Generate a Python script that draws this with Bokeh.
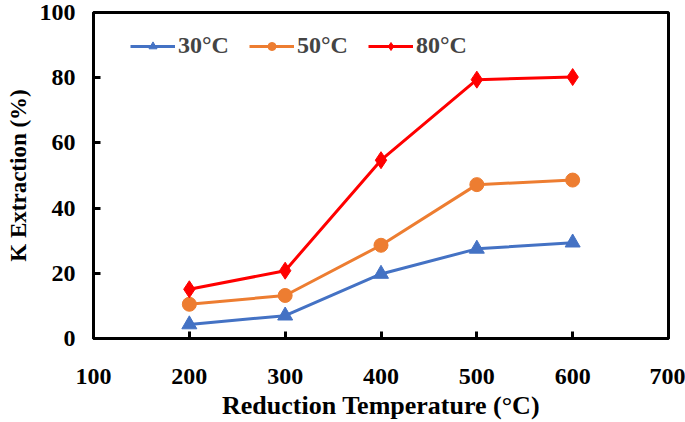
from bokeh.plotting import figure
from bokeh.models import Legend, LegendItem, Range1d, FixedTicker
from bokeh.embed import file_html
from bokeh.resources import INLINE

temps = [200, 300, 400, 500, 600]
k_30 = [4.3, 7.0, 19.8, 27.5, 29.4]
k_50 = [10.5, 13.2, 28.6, 47.2, 48.6]
k_80 = [15.1, 20.8, 54.7, 79.4, 80.2]
x_ticks = [100, 200, 300, 400, 500, 600, 700]
y_ticks = [0, 20, 40, 60, 80, 100]
x_title = "Reduction Temperature (°C)"
y_title = "K Extraction (%)"

FONT = "Liberation Serif"

p = figure(width=685, height=422, output_backend="svg", toolbar_location=None,
           x_range=Range1d(100, 700), y_range=Range1d(0, 100),
           min_border_left=93, min_border_right=17, min_border_top=12, min_border_bottom=84)

p.xgrid.visible = False
p.ygrid.visible = False
p.outline_line_color = "black"
p.outline_line_width = 3
p.outline_line_alpha = 1

r30 = p.line(temps, k_30, line_color="#4472C4", line_width=3)
m30 = p.scatter(temps, k_30, marker="triangle", size=15, fill_color="#4472C4", line_color="#4472C4")
r50 = p.line(temps, k_50, line_color="#ED7D31", line_width=3)
m50 = p.scatter(temps, k_50, marker="circle", size=14, fill_color="#ED7D31", line_color="#ED7D31")
r80 = p.line(temps, k_80, line_color="#FF0000", line_width=3)
m80 = p.scatter(temps, k_80, marker="diamond", size=17, fill_color="#FF0000", line_color="#FF0000")

for ax in (p.xaxis[0], p.yaxis[0]):
    ax.axis_line_color = "black"
    ax.axis_line_width = 3
    ax.major_tick_in = 7
    ax.major_tick_out = 0
    ax.major_tick_line_width = 3
    ax.minor_tick_line_color = None
    ax.major_label_text_font = FONT
    ax.major_label_text_font_style = "bold"
    ax.major_label_text_font_size = "24px"
    ax.major_label_text_color = "black"
    ax.axis_label_text_font = FONT
    ax.axis_label_text_font_style = "bold"
    ax.axis_label_text_color = "black"

p.xaxis.major_label_text_line_height = 0.8
p.xaxis.axis_label_text_line_height = 0.8
p.yaxis.major_label_text_line_height = 1.0
p.yaxis.axis_label_text_line_height = 1.0

p.xaxis.ticker = FixedTicker(ticks=x_ticks)
p.yaxis.ticker = FixedTicker(ticks=y_ticks)
p.xaxis.axis_label = x_title
p.yaxis.axis_label = y_title
p.xaxis.axis_label_text_font_size = "26px"
p.yaxis.axis_label_text_font_size = "23px"
p.xaxis.major_label_standoff = 30
p.yaxis.major_label_standoff = 18
p.xaxis.axis_label_standoff = 4
p.yaxis.axis_label_standoff = 6

legend = Legend(items=[
    LegendItem(label="30°C", renderers=[r30, m30]),
    LegendItem(label="50°C", renderers=[r50, m50]),
    LegendItem(label="80°C", renderers=[r80, m80]),
], location=(37, 279), orientation="horizontal")
legend.label_text_font = FONT
legend.label_text_font_style = "bold"
legend.label_text_font_size = "24px"
legend.border_line_color = None
legend.background_fill_alpha = 0
legend.glyph_width = 45
legend.spacing = 20
legend.label_standoff = 3
legend.margin = 0
legend.padding = 0
p.add_layout(legend)

open("out.html", "w").write(file_html(p, INLINE))
